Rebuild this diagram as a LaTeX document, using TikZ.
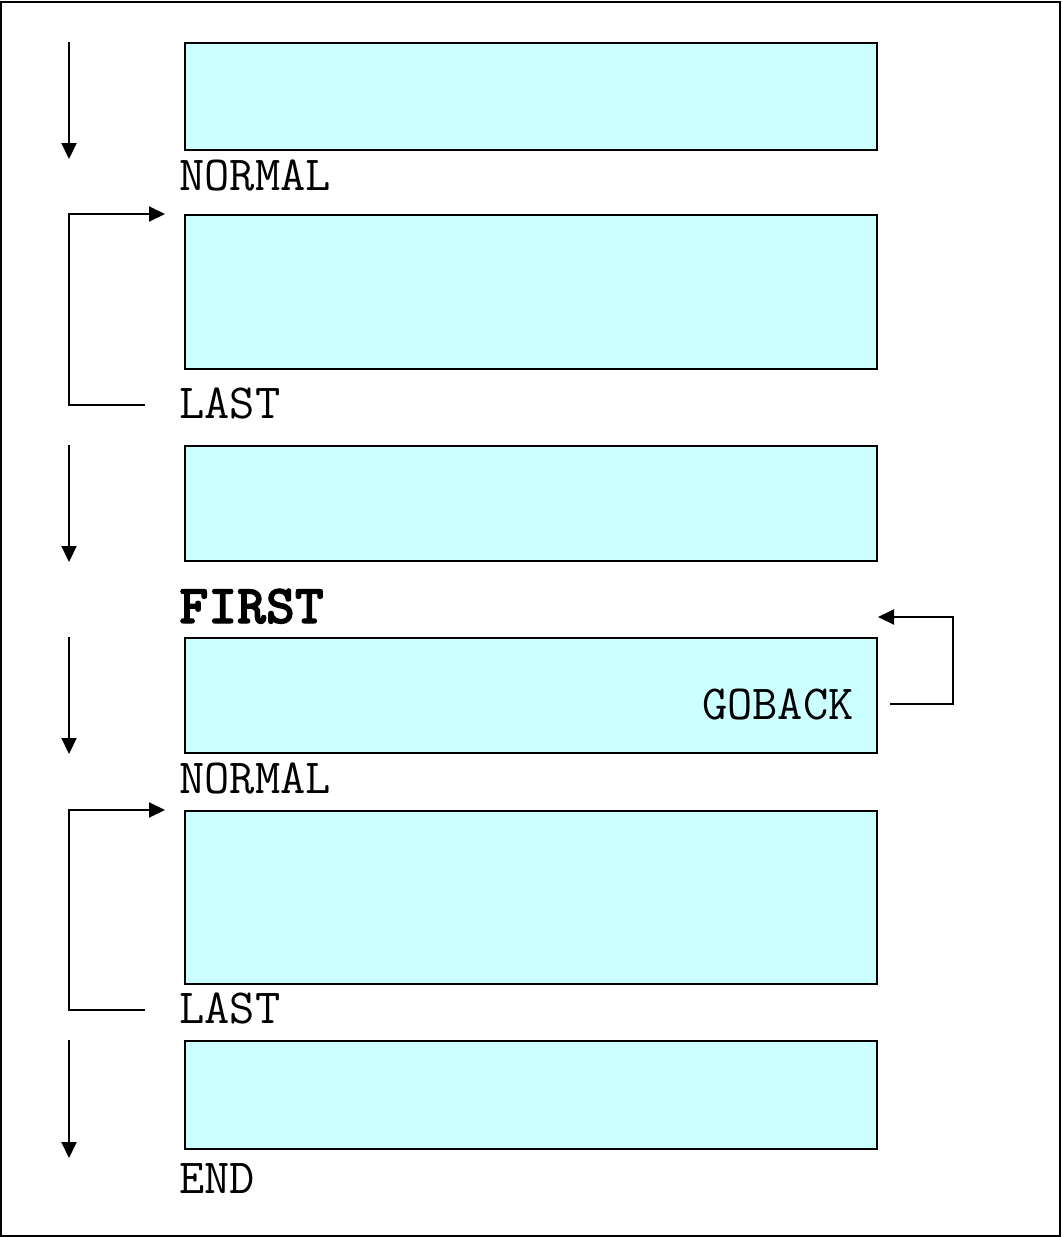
\documentclass[tikz,border=0pt]{standalone}
\usepackage{fontspec}
\newfontfamily\firstfont[FakeBold=2]{lmmonolt10-bold.otf}
\usetikzlibrary{arrows.meta}
\definecolor{boxcyan}{RGB}{204,255,255}
\tikzset{
  blk/.style={draw,fill=boxcyan,line width=1pt,inner sep=0pt,anchor=north west,minimum width=346pt},
  lbl/.style={anchor=base west,inner sep=0pt,font=\fontsize{24.5}{26}\selectfont\ttfamily},
  flow/.style={line width=1pt,-{Triangle[length=8pt,width=7.5pt]}}
}
\begin{document}
\begin{tikzpicture}[x=0.5pt,y=-0.5pt]
\useasboundingbox (0,0) rectangle (1062,1237);
\draw[line width=1pt] (1,1.5) rectangle (1060,1235.5);
\coordinate (lft) at (69,0);
% blocks
\node[blk,minimum height=53.5pt] (b1) at (184,42) {};
\node[blk,minimum height=77pt] (b2) at (184,214) {};
\node[blk,minimum height=57.5pt] (b3) at (184,445) {};
\node[blk,minimum height=57.5pt] (b4) at (184,637) {};
\node[blk,minimum height=86.5pt] (b5) at (184,810) {};
\node[blk,minimum height=54pt] (b6) at (184,1040) {};
% labels
\node[lbl] (l1) at (179,190) {NORMAL};
\node[lbl] (l2) at (179,418) {LAST};
\node[lbl,font=\fontsize{27.5}{30}\selectfont\firstfont] (l3) at (179,623) {FIRST};
\node[lbl] (l4) at (179,793) {NORMAL};
\node[lbl] (l5) at (179,1023) {LAST};
\node[lbl] (l6) at (179,1193) {END};
\node[lbl,anchor=base east] (gb) at (854,719) {GOBACK};
% straight arrows
\draw[flow] (b1.north -| lft) -- ([yshift=-4pt]b1.south -| lft);
\draw[flow] (b3.north -| lft) -- (b3.south -| lft);
\draw[flow] (b4.north -| lft) -- (b4.south -| lft);
\draw[flow] (b6.north -| lft) -- ([yshift=-4pt]b6.south -| lft);
% loops
\coordinate (s2) at ([xshift=-17pt,yshift=-1pt]l2.west);
\coordinate (s5) at ([xshift=-17pt,yshift=-1pt]l5.west);
\draw[flow] (s2) -- (lft |- s2) -- (lft |- b2.north) -- ([xshift=-9.5pt]b2.north west);
\draw[flow] (s5) -- (lft |- s5) -- (lft |- b5.north) -- ([xshift=-9.5pt]b5.north west);
\draw[flow] ([xshift=18pt]gb.east) -| ([xshift=37.5pt,yshift=10pt]b4.north east) -- ([yshift=10pt]b4.north east);
\end{tikzpicture}
\end{document}
